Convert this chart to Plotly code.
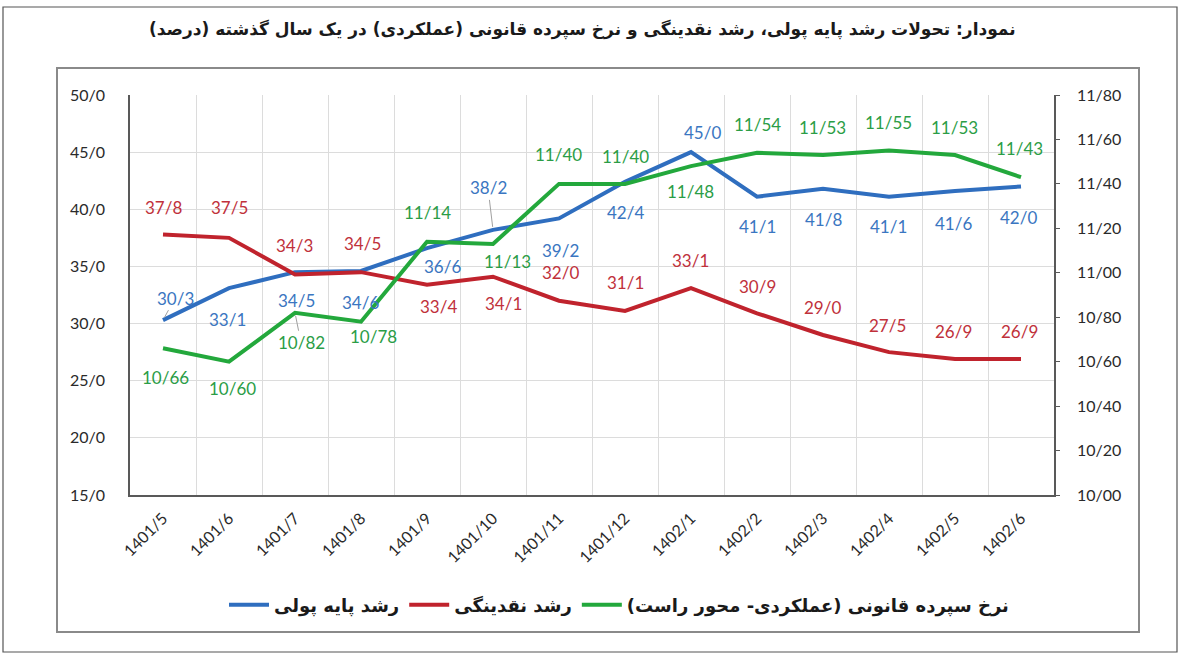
import plotly.graph_objects as go

# ---------------- data ----------------
months = ["1401/5", "1401/6", "1401/7", "1401/8", "1401/9", "1401/10", "1401/11",
          "1401/12", "1402/1", "1402/2", "1402/3", "1402/4", "1402/5", "1402/6"]
base_money = [30.3, 33.1, 34.5, 34.6, 36.6, 38.2, 39.2, 42.4, 45.0, 41.1, 41.8, 41.1, 41.6, 42.0]
liquidity = [37.8, 37.5, 34.3, 34.5, 33.4, 34.1, 32.0, 31.1, 33.1, 30.9, 29.0, 27.5, 26.9, 26.9]
deposit_rate = [10.66, 10.60, 10.82, 10.78, 11.14, 11.13, 11.40, 11.40, 11.48, 11.54, 11.53, 11.55, 11.53, 11.43]

left_ticks = [15, 20, 25, 30, 35, 40, 45, 50]
left_ticktext = ["15/0", "20/0", "25/0", "30/0", "35/0", "40/0", "45/0", "50/0"]
right_ticks = [10.0, 10.2, 10.4, 10.6, 10.8, 11.0, 11.2, 11.4, 11.6, 11.8]
right_ticktext = ["10/00", "10/20", "10/40", "10/60", "10/80", "11/00", "11/20", "11/40", "11/60", "11/80"]

name_base = "رشد پایه پولی"
name_liq = "رشد نقدینگی"
name_dep = "نرخ سپرده قانونی (عملکردی- محور راست)"
title_text = "نمودار: تحولات رشد پایه پولی، رشد نقدینگی و نرخ سپرده قانونی (عملکردی) در یک سال گذشته (درصد)"

# ---------------- styles ----------------
BLUE, RED, GREEN = "#2f6ebf", "#c0232d", "#23a83c"
BLUE_T, RED_T, GREEN_T = "#3a76c1", "#c0313b", "#2b9d46"
FONT = "DejaVu Sans"
TICKFONT = "Lato"

# label offsets in pixels (dx, dy with dy positive = down)
base_off = [(12, -22), (-2, 31), (1, 28), (-1, 31), (15, 18), (-5, -42), (1, 32),
            (0, 31), (11, -20), (0, 30), (0, 31), (-1, 30), (-2, 32), (-3, 31)]
liq_off = [(0, -27), (0, -30), (-1, -29), (1, -29), (11, 22), (10, 27), (1, -28),
           (0, -29), (-1, -28), (0, -27), (-1, -28), (-2, -27), (-2, -28), (-2, -28)]
dep_off = [(2, 29), (3, 27), (6, 30), (12, 15), (0, -29), (14, 18), (-1, -29),
           (0, -27), (-1, 25), (0, -28), (-1, -28), (-1, -28), (-1, -28), (-2, -29)]
leader = {("b", 5), ("b", 0), ("g", 2)}

xs = list(range(len(months)))

fig = go.Figure()
fig.add_trace(go.Scatter(x=xs, y=base_money, mode="lines", name=name_base,
                         line=dict(color=BLUE, width=4)))
fig.add_trace(go.Scatter(x=xs, y=liquidity, mode="lines", name=name_liq,
                         line=dict(color=RED, width=4)))
fig.add_trace(go.Scatter(x=xs, y=deposit_rate, mode="lines", name=name_dep, yaxis="y2",
                         line=dict(color=GREEN, width=4)))

annotations = []


def add_labels(vals, offs, color, yref, fmt, key):
    for i, (v, (dx, dy)) in enumerate(zip(vals, offs)):
        txt = fmt.format(v).replace(".", "/")
        if (key, i) in leader:
            annotations.append(dict(x=xs[i], y=v, xref="x", yref=yref, text=txt,
                                    showarrow=True, arrowhead=0, arrowwidth=1,
                                    arrowcolor="#a0a0a0", ax=dx, ay=dy, standoff=3,
                                    font=dict(family=TICKFONT, size=17, color=color)))
        else:
            annotations.append(dict(x=xs[i], y=v, xref="x", yref=yref, text=txt,
                                    showarrow=False, xshift=dx, yshift=-dy,
                                    font=dict(family=TICKFONT, size=17, color=color)))


add_labels(base_money, base_off, BLUE_T, "y", "{:.1f}", "b")
add_labels(liquidity, liq_off, RED_T, "y", "{:.1f}", "r")
add_labels(deposit_rate, dep_off, GREEN_T, "y2", "{:.2f}", "g")

# plot area: x 130..1054, y 95..495 in pixels
W, H = 1203, 655
L, R, T, B = 130, 1054, 95, 495


def px(xp):
    return (xp - L) / (R - L)


def py(yp):
    return (B - yp) / (B - T)


# title
annotations.append(dict(x=px(582), y=py(30), xref="paper", yref="paper", text="<b>" + title_text + "</b>",
                        showarrow=False, xanchor="center", yanchor="middle",
                        font=dict(family=FONT, size=17, color="#1a1a1a")))

shapes = [
    dict(type="rect", xref="paper", yref="paper", x0=px(3), x1=px(1177), y0=py(652), y1=py(7),
         line=dict(color="#555555", width=1.2), layer="below"),
    dict(type="rect", xref="paper", yref="paper", x0=px(57), x1=px(1139), y0=py(632), y1=py(68),
         line=dict(color="#8a8a8a", width=2), layer="below"),
]

fig.update_layout(
    width=W, height=H,
    margin=dict(l=L, r=W - R, t=T, b=H - B, pad=0),
    paper_bgcolor="white", plot_bgcolor="white",
    showlegend=True,
    legend=dict(orientation="h", x=px(619), y=py(605), xanchor="center", yanchor="middle",
                font=dict(family=FONT, size=18, color="#1a1a1a", weight="bold"), itemwidth=40,
                bgcolor="rgba(0,0,0,0)"),
    annotations=annotations,
    shapes=shapes,
    xaxis=dict(range=[-0.5, len(months) - 0.5], tickmode="array", tickvals=xs, ticktext=months,
               tickangle=-45, showgrid=False, zeroline=False,
               showline=True, linecolor="#595959", linewidth=1.5, ticks="",
               ticklabelstandoff=6,
               tickfont=dict(family=TICKFONT, size=16, color="#2a2a2a"),
               minor=dict(tickmode="array", tickvals=[i + 0.5 for i in xs[:-1]],
                          showgrid=True, gridcolor="#dcdcdc", gridwidth=1, ticks="")),
    yaxis=dict(range=[15, 50], tickmode="array", tickvals=left_ticks, ticktext=left_ticktext,
               showgrid=True, gridcolor="#dcdcdc", gridwidth=1, zeroline=False,
               showline=True, linecolor="#595959", linewidth=1.5, ticks="",
               ticklabelstandoff=20,
               tickfont=dict(family=TICKFONT, size=16, color="#2a2a2a")),
    yaxis2=dict(range=[10.0, 11.8], tickmode="array", tickvals=right_ticks, ticktext=right_ticktext,
                overlaying="y", side="right", showgrid=False, zeroline=False,
                showline=True, linecolor="#595959", linewidth=1.5, ticks="outside",
                ticklen=4, tickcolor="#595959", ticklabelstandoff=14,
                tickfont=dict(family=TICKFONT, size=16, color="#2a2a2a")),
)

fig.write_html("out.html", config={"displayModeBar": False},
               post_script="document.body.style.margin='0px';")
